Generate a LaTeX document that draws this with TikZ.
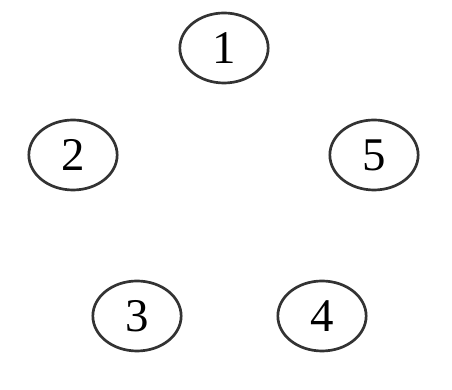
\documentclass[tikz,border=0pt]{standalone}
\usepackage{fontspec}
\setmainfont{Liberation Serif}
\usepackage{tikz}
\usetikzlibrary{shapes.geometric}

\begin{document}
\begin{tikzpicture}
    \useasboundingbox (0,0) rectangle (13.56,11.7);
    \tikzset{numnode/.style={draw=black!80,line width=2.3pt,ellipse,
      minimum width=2.65cm,minimum height=2.1cm,inner sep=0pt,
      font=\fontsize{40}{44}\selectfont}}
    \node[numnode] (n1) at (6.72,10.26) {1};
    \node[numnode] (n2) at (2.19,7.05) {2};
    \node[numnode] (n5) at (11.22,7.05) {5};
    \node[numnode] (n3) at (4.11,2.22) {3};
    \node[numnode] (n4) at (9.66,2.22) {4};
  \end{tikzpicture}
\end{document}
